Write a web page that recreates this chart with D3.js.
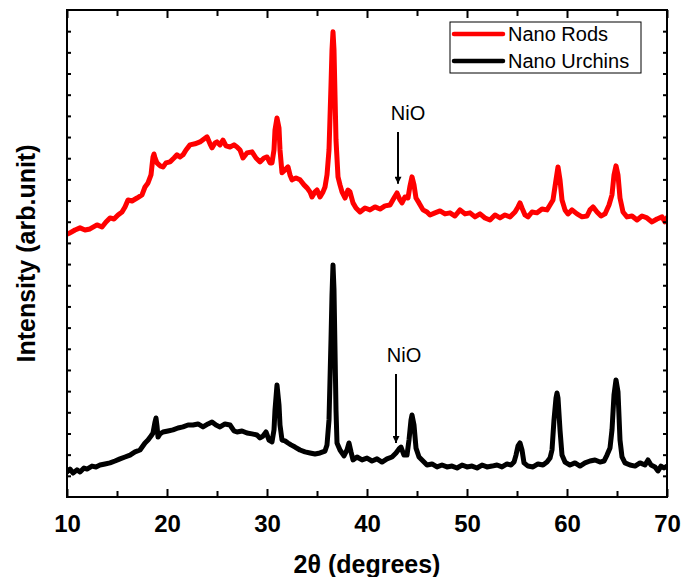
<!DOCTYPE html>
<html>
<head>
<meta charset="utf-8">
<script src="https://cdn.jsdelivr.net/npm/d3@7"></script>
<style>
  html, body { margin: 0; padding: 0; background: #fff; }
  svg { display: block; }
  text { font-family: Arial, "Liberation Sans", sans-serif; }
</style>
</head>
<body>
<svg id="chart" width="683" height="577"></svg>
<script>
// XRD patterns: 2θ (degrees) and intensity (arb. units, offset stacked)
const rodsTheta = [10.0,10.3,10.8,11.3,11.8,12.3,13.0,13.5,13.9,14.3,14.7,15.1,15.5,15.8,16.1,16.5,17.0,17.5,17.8,18.1,18.4,18.5,18.6,18.7,18.8,19.0,19.3,19.6,19.9,20.3,20.7,21.0,21.3,21.6,21.9,22.3,22.8,23.3,23.7,24.0,24.3,24.5,24.8,25.0,25.3,25.6,25.9,26.3,26.7,27.0,27.3,27.6,28.0,28.5,28.9,29.3,29.7,30.0,30.3,30.5,30.7,30.8,31.0,31.2,31.3,31.5,31.8,32.1,32.3,32.5,32.9,33.3,33.7,34.0,34.3,34.5,34.8,35.0,35.3,35.6,35.8,36.0,36.2,36.4,36.5,36.6,36.7,36.8,36.9,37.1,37.3,37.5,37.8,38.1,38.3,38.6,38.9,39.3,39.8,40.3,40.8,41.3,41.8,42.3,42.7,43.0,43.3,43.5,43.8,44.1,44.3,44.5,44.7,44.9,45.2,45.6,46.0,46.3,46.8,47.3,47.8,48.3,48.8,49.3,49.8,50.3,50.8,51.3,51.8,52.3,52.8,53.3,53.8,54.3,54.8,55.1,55.3,55.5,55.8,56.1,56.5,57.0,57.5,58.0,58.3,58.6,58.9,59.1,59.3,59.5,59.8,60.1,60.5,61.0,61.5,62.0,62.3,62.6,63.0,63.4,63.8,64.2,64.5,64.7,64.9,65.1,65.3,65.6,66.0,66.5,67.0,67.5,68.0,68.5,69.0,69.5,69.8,70.0];
const rodsIntensity = [1242,1247,1261,1271,1261,1266,1285,1275,1299,1318,1313,1332,1346,1370,1403,1398,1412,1427,1464,1483,1521,1564,1606,1620,1601,1578,1564,1559,1578,1583,1601,1616,1606,1616,1639,1663,1668,1677,1691,1701,1668,1649,1672,1677,1663,1686,1658,1653,1663,1653,1639,1601,1625,1630,1601,1583,1601,1606,1578,1578,1639,1734,1790,1743,1639,1531,1545,1559,1521,1498,1507,1498,1474,1460,1441,1417,1441,1450,1417,1441,1464,1521,1639,1946,2112,2197,2112,1899,1686,1512,1474,1441,1412,1450,1441,1389,1365,1346,1365,1356,1370,1360,1375,1379,1412,1436,1403,1389,1417,1412,1469,1512,1474,1412,1389,1356,1346,1332,1342,1351,1337,1342,1327,1356,1337,1342,1323,1337,1318,1308,1332,1318,1332,1323,1346,1370,1389,1365,1332,1323,1346,1342,1360,1356,1379,1403,1498,1559,1498,1403,1356,1337,1356,1337,1323,1327,1356,1370,1346,1327,1337,1379,1427,1521,1564,1521,1412,1346,1323,1327,1308,1327,1318,1299,1313,1323,1299,1318];

const urchinsTheta = [10.0,10.3,10.6,11.0,11.3,11.7,12.0,12.5,12.9,13.3,13.8,14.3,14.8,15.3,15.8,16.3,16.8,17.3,17.8,18.1,18.4,18.6,18.8,18.9,19.0,19.1,19.3,19.6,20.1,20.6,21.1,21.6,22.1,22.6,23.1,23.6,24.1,24.5,24.9,25.3,25.8,26.3,26.7,27.0,27.5,28.0,28.5,29.0,29.3,29.6,29.9,30.2,30.5,30.7,30.8,31.0,31.2,31.3,31.5,31.8,32.1,32.4,32.8,33.3,33.8,34.3,34.8,35.3,35.8,36.0,36.2,36.4,36.5,36.6,36.7,36.8,36.9,37.0,37.3,37.7,38.0,38.2,38.4,38.6,39.0,39.5,40.0,40.5,41.0,41.5,42.0,42.5,42.9,43.2,43.4,43.7,44.0,44.2,44.4,44.5,44.7,44.9,45.2,45.6,46.0,46.5,47.0,47.5,48.0,48.5,49.0,49.5,50.0,50.5,51.0,51.5,52.0,52.5,53.0,53.5,54.0,54.4,54.7,54.9,55.1,55.3,55.5,55.7,56.1,56.6,57.1,57.6,58.0,58.3,58.5,58.7,58.9,59.0,59.1,59.3,59.5,59.8,60.3,60.8,61.3,61.8,62.3,62.8,63.3,63.7,64.0,64.3,64.5,64.7,64.9,65.1,65.3,65.5,65.8,66.3,66.8,67.3,67.8,68.1,68.4,68.8,69.1,69.4,69.7,70.0];
const urchinsIntensity = [118,132,113,128,118,137,132,146,142,151,156,161,170,180,189,198,213,222,255,269,288,302,354,373,335,283,298,307,312,317,326,331,340,340,345,331,345,354,340,331,345,340,312,307,312,302,298,293,279,288,307,269,260,317,411,529,435,340,269,265,255,246,236,222,213,208,203,208,217,246,364,742,954,1096,978,694,411,255,222,194,222,255,213,175,189,175,184,170,180,165,180,189,208,227,236,198,198,269,364,387,340,231,189,170,151,156,142,151,142,146,137,151,142,146,137,151,142,146,151,142,156,151,165,198,241,255,222,161,146,142,156,151,165,184,222,364,468,491,468,317,198,165,151,161,146,161,170,175,165,170,198,231,317,482,553,496,269,189,161,151,146,161,151,175,151,142,123,146,137,146];

// Axis ticks
const xMajorTicks = [10, 20, 30, 40, 50, 60, 70];
const xMinorTicks = [15, 25, 35, 45, 55, 65];
const yTicks = d3.range(100, 2300, 100);

// Legend entries and peak annotations
const seriesNames = ["Nano Rods", "Nano Urchins"];
const seriesColors = ["#ff0000", "#000000"];
const annotationLabel = "NiO";
const annotationTheta = [43.1, 42.9];
const annotationTop = [1724, 581];
const annotationBottom = [1479, 255];
const labelShift = [10, 8];

const svg = d3.select("#chart");
const margin = { left: 67, right: 16, top: 10, bottom: 80 };
const W = 683, H = 577;

const x = d3.scaleLinear().domain([10, 70]).range([margin.left, W - margin.right]);
const y = d3.scaleLinear().domain([0, 2300]).range([H - margin.bottom, margin.top]);

svg.append("defs").append("clipPath").attr("id", "plotClip")
  .append("rect")
  .attr("x", x(10)).attr("y", y(2300))
  .attr("width", x(70) - x(10)).attr("height", y(0) - y(2300));

const line = d3.line().x(d => x(d[0])).y(d => y(d[1])).curve(d3.curveLinear);

const series = [
  d3.zip(rodsTheta, rodsIntensity),
  d3.zip(urchinsTheta, urchinsIntensity)
];

const plot = svg.append("g").attr("clip-path", "url(#plotClip)");
series.forEach((s, i) => {
  plot.append("path")
    .datum(s)
    .attr("fill", "none")
    .attr("stroke", seriesColors[i])
    .attr("stroke-width", 5)
    .attr("stroke-linejoin", "round")
    .attr("stroke-linecap", "round")
    .attr("d", line);
});

// Axes with inward ticks
function styleAxis(g) {
  g.select(".domain").remove();
  g.selectAll("line").attr("stroke", "#000").attr("stroke-width", 2);
}

svg.append("g").attr("transform", `translate(0,${y(0)})`)
  .call(d3.axisBottom(x).tickValues(xMajorTicks).tickSize(-8).tickPadding(18).tickFormat(d3.format("d")))
  .call(styleAxis)
  .call(g => g.selectAll("text").attr("font-size", 24).attr("font-weight", "bold").attr("fill", "#000"));
svg.append("g").attr("transform", `translate(0,${y(0)})`)
  .call(d3.axisBottom(x).tickValues(xMinorTicks).tickSize(-6).tickFormat(""))
  .call(styleAxis);
svg.append("g").attr("transform", `translate(0,${y(2300)})`)
  .call(d3.axisTop(x).tickValues(xMajorTicks).tickSize(-8).tickFormat(""))
  .call(styleAxis);
svg.append("g").attr("transform", `translate(0,${y(2300)})`)
  .call(d3.axisTop(x).tickValues(xMinorTicks).tickSize(-6).tickFormat(""))
  .call(styleAxis);
svg.append("g").attr("transform", `translate(${x(10)},0)`)
  .call(d3.axisLeft(y).tickValues(yTicks).tickSize(-4).tickFormat(""))
  .call(styleAxis);
svg.append("g").attr("transform", `translate(${x(70)},0)`)
  .call(d3.axisRight(y).tickValues(yTicks).tickSize(-4).tickFormat(""))
  .call(styleAxis);

// Frame
svg.append("rect")
  .attr("x", x(10)).attr("y", y(2300))
  .attr("width", x(70) - x(10)).attr("height", y(0) - y(2300))
  .attr("fill", "none").attr("stroke", "#000").attr("stroke-width", 2);

// Axis titles
svg.append("text")
  .attr("x", (x(10) + x(70)) / 2).attr("y", 573)
  .attr("text-anchor", "middle").attr("font-size", 25).attr("font-weight", "bold")
  .text("2θ (degrees)");
svg.append("text")
  .attr("transform", `translate(35,${(y(0) + y(2300)) / 2}) rotate(-90)`)
  .attr("text-anchor", "middle").attr("font-size", 25).attr("font-weight", "bold")
  .text("Intensity (arb.unit)");

// NiO annotations with arrows
svg.append("defs").append("marker")
  .attr("id", "arrowHead").attr("viewBox", "0 0 10 10")
  .attr("refX", 10).attr("refY", 5)
  .attr("markerWidth", 10).attr("markerHeight", 7)
  .attr("markerUnits", "userSpaceOnUse")
  .attr("orient", "auto")
  .append("path").attr("d", "M0,0 L10,5 L0,10 Z").attr("fill", "#000");

annotationTheta.forEach((t, i) => {
  const ax = x(t);
  svg.append("line")
    .attr("x1", ax).attr("x2", ax)
    .attr("y1", y(annotationTop[i])).attr("y2", y(annotationBottom[i]))
    .attr("stroke", "#000").attr("stroke-width", 2)
    .attr("marker-end", "url(#arrowHead)");
  svg.append("text")
    .attr("x", ax + labelShift[i]).attr("y", y(annotationTop[i]) - 12)
    .attr("text-anchor", "middle").attr("font-size", 20)
    .text(annotationLabel);
});

// Legend
const legend = svg.append("g");
legend.append("rect")
  .attr("x", 450).attr("y", 22).attr("width", 191).attr("height", 51)
  .attr("fill", "#fff").attr("stroke", "#000").attr("stroke-width", 1);
seriesNames.forEach((name, i) => {
  const ly = 34 + i * 27;
  legend.append("line")
    .attr("x1", 454).attr("x2", 503).attr("y1", ly).attr("y2", ly)
    .attr("stroke", seriesColors[i]).attr("stroke-width", 4.5).attr("stroke-linecap", "round");
  legend.append("text")
    .attr("x", 508).attr("y", ly + 7)
    .attr("font-size", 20)
    .text(name);
});
</script>
</body>
</html>
